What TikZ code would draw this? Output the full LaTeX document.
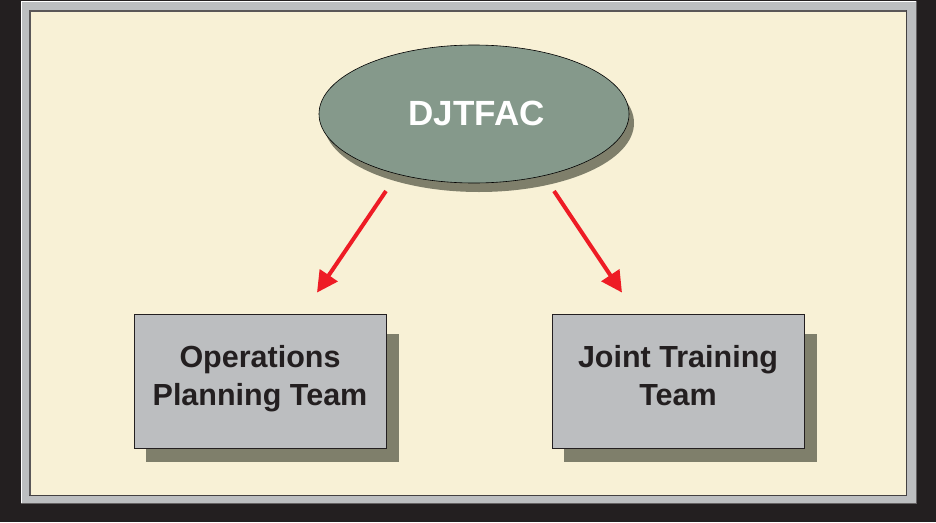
\documentclass[tikz,border=0pt]{standalone}
\usepackage{fontspec}
\setmainfont{Liberation Sans}
\usetikzlibrary{shapes.geometric,arrows.meta,calc,shadows}
\definecolor{bgblack}{HTML}{231F20}
\definecolor{framegray}{HTML}{BCBEC0}
\definecolor{cream}{HTML}{F8F1D6}
\definecolor{ellfill}{HTML}{85998B}
\definecolor{shadowc}{HTML}{7F7F6B}
\definecolor{arrred}{HTML}{EE1C25}
\tikzset{
  ellnode/.style={ellipse, draw=black, line width=0.6pt, fill=ellfill,
    minimum width=310pt, minimum height=138pt, inner sep=0pt,
    text=white, font=\fontsize{35}{40}\selectfont\bfseries,
    drop shadow={shadow xshift=5pt, shadow yshift=-9pt, fill=shadowc, opacity=1}},
  teambox/.style={rectangle, draw=bgblack, line width=0.8pt, fill=framegray,
    minimum width=252pt, minimum height=134pt, inner sep=0pt, align=center,
    text=bgblack, font=\fontsize{30.5}{38}\selectfont\bfseries},
  boxtext/.style={teambox, draw=none, fill=none},
  boxshadow/.style={fill=shadowc},
  arr/.style={draw=arrred, line width=4pt, -{Triangle[length=21pt,width=21pt]}}
}
\begin{document}
\begin{tikzpicture}[x=1pt,y=-1pt]
\useasboundingbox (0,0) rectangle (936,522);
% background frame
\fill[bgblack] (0,0) rectangle (936,522);
\fill[framegray] (21,1) rectangle (917,504);
\draw[white, line width=1.2pt] (21.6,504) -- (21.6,1.6) -- (917,1.6);
\draw[bgblack!70, line width=1pt] (916.5,1) -- (916.5,503.5) -- (21,503.5);
\fill[cream] (29,10) rectangle (907,496);
\draw[bgblack!75, line width=1.5pt] (29.75,496) -- (29.75,10.75) -- (907,10.75);
\draw[bgblack!85, line width=1.5pt] (906.25,10) -- (906.25,495.25) -- (29,495.25);
% box shadows
\fill[boxshadow] (146,334) rectangle (399,462);
\fill[boxshadow] (564,334) rectangle (817,462);
% nodes
\node[ellnode] (dj) at (474,114) {\hspace*{5pt}\raisebox{2pt}{DJTFAC}};
\node[teambox] (ops) at (260,381) {};
\node[boxtext] (opstext) at (260,379) {Operations\\Planning Team};
\node[teambox] (jtt) at (678,381) {};
\node[boxtext] (jtttext) at (678,379) {Joint Training\\Team\vphantom{g}};
% connectors
\draw[arr] ($(dj.center)+(-88,77)$) -- ($(ops.north)+(57,-21)$);
\draw[arr] ($(dj.center)+(80,77)$) -- ($(jtt.north)+(-56,-21)$);
\end{tikzpicture}
\end{document}
